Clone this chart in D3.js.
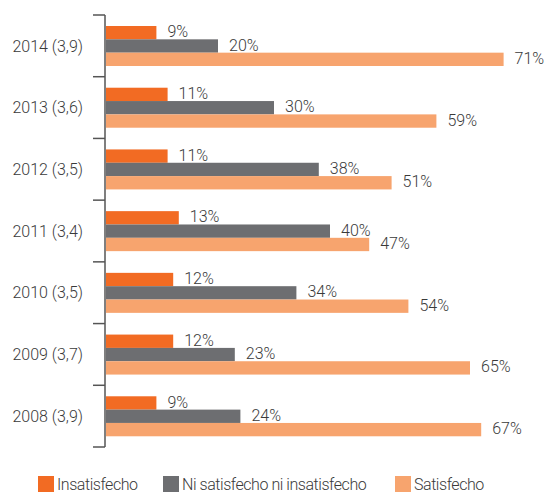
<!DOCTYPE html>
<html>
<head>
<meta charset="utf-8">
<script src="https://cdn.jsdelivr.net/npm/d3@7"></script>
<style>
  body { margin: 0; background: #fff; }
  text { font-family: "Roboto", "Liberation Sans Narrow", sans-serif; font-weight: 300; fill: #3a3a3a; }
</style>
</head>
<body>
<div id="chart"></div>
<script>
// años (con valoración media) y porcentajes
var years = ["2014 (3,9)", "2013 (3,6)", "2012 (3,5)", "2011 (3,4)", "2010 (3,5)", "2009 (3,7)", "2008 (3,9)"];
var insatisfecho = [9, 11, 11, 13, 12, 12, 9];
var niNi = [20, 30, 38, 40, 34, 23, 24];
var satisfecho = [71, 59, 51, 47, 54, 65, 67];
var seriesNames = ["Insatisfecho", "Ni satisfecho ni insatisfecho", "Satisfecho"];
var colors = ["#f26b23", "#6d6e71", "#f7a46e"];

var width = 547, height = 495;
var axisX = 105;  // posición del eje vertical

var svg = d3.select("#chart").append("svg")
  .attr("width", width)
  .attr("height", height);

var rows = years.map(function (y, i) {
  return { year: y, values: [insatisfecho[i], niNi[i], satisfecho[i]] };
});

var y = d3.scaleBand()
  .domain(years)
  .range([15, 447]);

var inner = d3.scaleBand()
  .domain([0, 1, 2])
  .range([11, 51]);

var x = d3.scaleLinear()
  .domain([0, 100])
  .range([axisX + 1, axisX + 1 + 560]);

// eje con marcas entre grupos
var axis = svg.append("g");
axis.append("line")
  .attr("x1", axisX).attr("x2", axisX)
  .attr("y1", y.range()[0]).attr("y2", y.range()[1])
  .attr("stroke", "#555").attr("stroke-width", 1.5);

var bounds = years.map(function (d) { return y(d); }).concat([y.range()[1]]);
axis.selectAll(".tick")
  .data(bounds)
  .enter().append("line")
  .attr("x1", axisX - 12).attr("x2", axisX)
  .attr("y1", function (d) { return d; })
  .attr("y2", function (d) { return d; })
  .attr("stroke", "#555").attr("stroke-width", 1.5);

axis.selectAll(".ylabel")
  .data(years)
  .enter().append("text")
  .attr("x", 83)
  .attr("y", function (d) { return y(d) + inner(1) + inner.bandwidth() / 2; })
  .attr("dy", "0.35em")
  .attr("text-anchor", "end")
  .style("font-size", "16px")
  .text(function (d) { return d; });

var groups = svg.selectAll(".grupo")
  .data(rows)
  .enter().append("g")
  .attr("transform", function (d) { return "translate(0," + y(d.year) + ")"; });

groups.selectAll("rect")
  .data(function (d) { return d.values; })
  .enter().append("rect")
  .attr("x", x(0))
  .attr("y", function (d, i) { return inner(i); })
  .attr("width", function (d) { return x(d) - x(0); })
  .attr("height", inner.bandwidth())
  .attr("fill", function (d, i) { return colors[i]; });

groups.selectAll(".val")
  .data(function (d) { return d.values; })
  .enter().append("text")
  .attr("x", function (d) { return x(d) + 11; })
  .attr("y", function (d, i) { return inner(i) + inner.bandwidth() / 2 - 1; })
  .attr("dy", "0.35em")
  .style("font-size", "16px")
  .text(function (d) { return d + "%"; });

// leyenda
var legendX = [38, 163, 395];
var legend = svg.selectAll(".leg")
  .data(seriesNames)
  .enter().append("g")
  .attr("transform", function (d, i) { return "translate(" + legendX[i] + ",476)"; });

legend.append("rect")
  .attr("width", 16).attr("height", 16)
  .attr("fill", function (d, i) { return colors[i]; });

legend.append("text")
  .attr("x", 19)
  .attr("y", 8)
  .attr("dy", "0.35em")
  .style("font-size", "16px")
  .style("letter-spacing", "-0.45px")
  .text(function (d) { return d; });
</script>
</body>
</html>
